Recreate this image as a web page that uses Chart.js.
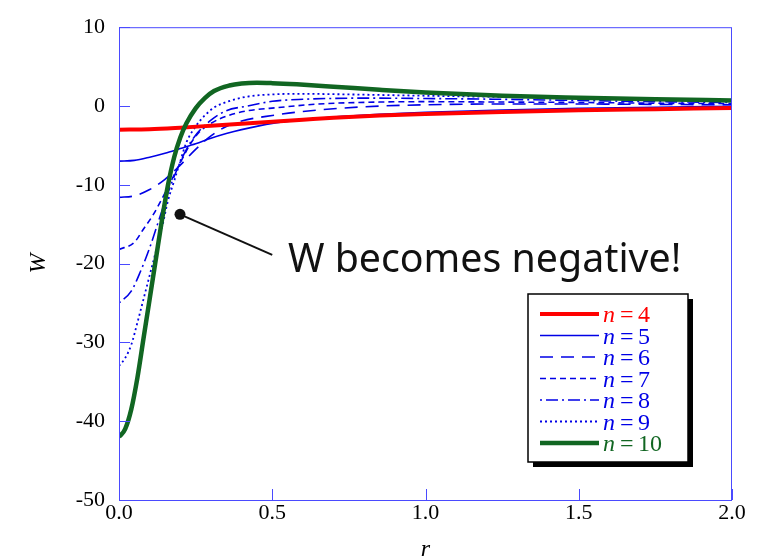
<!DOCTYPE html>
<html>
<head>
<meta charset="utf-8">
<script src="https://cdn.jsdelivr.net/npm/chart.js@4"></script>
<style>
  html, body { margin: 0; padding: 0; background: #fff; }
</style>
</head>
<body>
<canvas id="chart" width="765" height="556"></canvas>
<script>
// W(r) curves, one pair of arrays per n
const r4 = [0, 0.1, 0.2, 0.3, 0.4, 0.5, 0.6, 0.7, 0.85, 1.0, 1.25, 1.5, 1.75, 2.0];
const w4 = [-3.0, -2.95, -2.75, -2.5, -2.25, -2.0, -1.75, -1.5, -1.2, -1.0, -0.75, -0.55, -0.4, -0.25];

const r5 = [0, 0.05, 0.1, 0.15, 0.2, 0.25, 0.3, 0.35, 0.4, 0.5, 0.6, 0.7, 0.85, 1.0, 1.25, 1.5, 1.75, 2.0];
const w5 = [-7.0, -6.9, -6.5, -6.0, -5.4, -4.8, -4.1, -3.5, -3.0, -2.2, -1.75, -1.4, -1.05, -0.8, -0.5, -0.3, -0.15, -0.05];

const r6 = [0, 0.05, 0.1, 0.15, 0.2, 0.25, 0.3, 0.35, 0.4, 0.5, 0.6, 0.8, 1.0, 1.25, 1.5, 1.75, 2.0];
const w6 = [-11.6, -11.4, -10.6, -9.3, -7.5, -5.5, -3.8, -2.6, -1.9, -1.2, -0.7, -0.1, 0.15, 0.25, 0.25, 0.2, 0.15];

const r7 = [0, 0.05, 0.08, 0.11, 0.14, 0.17, 0.2, 0.23, 0.26, 0.3, 0.35, 0.42, 0.52, 0.65, 0.85, 1.0, 1.25, 1.5, 1.75, 2.0];
const w7 = [-18.2, -17.3, -15.6, -13.9, -11.8, -9.5, -7.2, -5.0, -3.4, -2.2, -1.3, -0.6, -0.2, 0.25, 0.5, 0.55, 0.5, 0.45, 0.35, 0.3];

const r8 = [0, 0.04, 0.07, 0.1, 0.13, 0.16, 0.19, 0.22, 0.25, 0.3, 0.35, 0.42, 0.5, 0.6, 0.8, 1.0, 1.25, 1.5, 1.75, 2.0];
const w8 = [-25, -23.5, -21, -18, -14.5, -11, -8, -5.5, -3.7, -1.8, -0.6, 0.0, 0.6, 0.85, 1.0, 0.95, 0.85, 0.7, 0.55, 0.45];

const r9 = [0, 0.02, 0.04, 0.06, 0.08, 0.1, 0.12, 0.14, 0.16, 0.18, 0.2, 0.22, 0.25, 0.28, 0.31, 0.35, 0.42, 0.52, 0.6, 0.7, 0.85, 1.0, 1.25, 1.5, 1.75, 2.0];
const w9 = [-33, -32, -30.3, -27.5, -24.5, -21.5, -18.5, -15.5, -12, -9.5, -7, -4.6, -2.6, -1.2, -0.2, 0.5, 1.2, 1.5, 1.55, 1.5, 1.4, 1.3, 1.15, 1.0, 0.8, 0.65];

const r10 = [0, 0.02, 0.04, 0.06, 0.08, 0.1, 0.12, 0.14, 0.16, 0.18, 0.2, 0.22, 0.25, 0.28, 0.31, 0.36, 0.4, 0.45, 0.5, 0.58, 0.7, 0.85, 1.0, 1.25, 1.5, 1.75, 2.0];
const w10 = [-42, -41, -38.5, -34.5, -29.5, -24.5, -19.5, -14.5, -10, -6.5, -4, -2.2, -0.3, 1.0, 1.9, 2.6, 2.85, 2.95, 2.9, 2.75, 2.45, 2.05, 1.7, 1.3, 1.05, 0.85, 0.7];

const nValues = [4, 5, 6, 7, 8, 9, 10];
const rSeries = [r4, r5, r6, r7, r8, r9, r10];
const wSeries = [w4, w5, w6, w7, w8, w9, w10];

const xTicks = [0, 0.5, 1.0, 1.5, 2.0];
const yTicks = [10, 0, -10, -20, -30, -40, -50];

// annotation, in data coordinates
const noteDot = { x: 0.199, y: -13.75 };
const noteLineEnd = { x: 0.5, y: -18.9 };
const noteText = { x: 0.551, y: -21.1, text: 'W becomes negative!' };

const AXIS = '#4a4aff';
const BLUE = '#0000e6';
const GREEN = '#116622';
const SERIF = '"Liberation Serif", "DejaVu Serif", serif';

const lineStyles = [
  { color: '#ff0000', width: 4, dash: [], order: 1 },
  { color: BLUE, width: 1.6, dash: [], order: 2 },
  { color: BLUE, width: 1.6, dash: [13, 8], order: 2 },
  { color: BLUE, width: 1.6, dash: [6, 4], order: 2 },
  { color: BLUE, width: 1.6, dash: [2, 4, 12, 4], order: 2 },
  { color: BLUE, width: 1.8, dash: [2, 3], order: 2 },
  { color: GREEN, width: 4.5, dash: [], order: 0 }
];

const datasets = nValues.map((n, i) => ({
  label: 'n = ' + n,
  data: rSeries[i].map((r, j) => ({ x: r, y: wSeries[i][j] })),
  borderColor: lineStyles[i].color,
  borderWidth: lineStyles[i].width,
  borderDash: lineStyles[i].dash,
  order: lineStyles[i].order,
  pointRadius: 0,
  fill: false,
  cubicInterpolationMode: 'monotone'
}));

const decor = {
  id: 'decor',
  afterDatasetsDraw(chart) {
    const { ctx, chartArea: a, scales: { x, y } } = chart;
    ctx.save();

    // frame and inward ticks
    ctx.strokeStyle = AXIS;
    ctx.lineWidth = 1;
    ctx.setLineDash([]);
    ctx.strokeRect(a.left + 0.5, a.top + 0.5, a.right - a.left - 1, a.bottom - a.top);
    ctx.beginPath();
    y.ticks.forEach(t => {
      const py = Math.round(y.getPixelForValue(t.value)) + 0.5;
      ctx.moveTo(a.left, py); ctx.lineTo(a.left + 11, py);
    });
    x.ticks.forEach(t => {
      const px = Math.round(x.getPixelForValue(t.value)) + 0.5;
      ctx.moveTo(px, a.bottom); ctx.lineTo(px, a.bottom - 11);
    });
    ctx.stroke();

    // annotation
    const dx = x.getPixelForValue(noteDot.x), dy = y.getPixelForValue(noteDot.y);
    const lx = x.getPixelForValue(noteLineEnd.x), ly = y.getPixelForValue(noteLineEnd.y);
    ctx.strokeStyle = '#111';
    ctx.lineWidth = 2;
    ctx.beginPath(); ctx.moveTo(dx, dy); ctx.lineTo(lx, ly); ctx.stroke();
    ctx.fillStyle = '#111';
    ctx.beginPath(); ctx.arc(dx, dy, 5.5, 0, Math.PI * 2); ctx.fill();
    ctx.font = '100px "Noto Sans", sans-serif';
    const w100 = ctx.measureText(noteText.text).width;
    ctx.font = (100 * 393 / w100).toFixed(1) + 'px "Noto Sans", sans-serif';
    ctx.textBaseline = 'alphabetic';
    ctx.textAlign = 'left';
    ctx.fillText(noteText.text, x.getPixelForValue(noteText.x), y.getPixelForValue(noteText.y));

    // legend box
    const bx = 528, by = 294, bw = 160, bh = 168;
    ctx.fillStyle = '#000';
    ctx.fillRect(bx + 5, by + 5, bw, bh);
    ctx.fillStyle = '#fff';
    ctx.fillRect(bx, by, bw, bh);
    ctx.strokeStyle = '#000';
    ctx.lineWidth = 1.5;
    ctx.strokeRect(bx, by, bw, bh);

    nValues.forEach((n, i) => {
      const s = lineStyles[i];
      const base = 322 + i * 21.5;
      const ly2 = base - 8;
      ctx.strokeStyle = s.color;
      ctx.lineWidth = s.width;
      ctx.setLineDash(s.dash);
      ctx.beginPath(); ctx.moveTo(540, ly2); ctx.lineTo(599, ly2); ctx.stroke();
      ctx.setLineDash([]);
      ctx.fillStyle = s.color;
      ctx.font = 'italic 24px ' + SERIF;
      ctx.fillText('n', 603, base);
      ctx.font = '24px ' + SERIF;
      ctx.fillText('=', 620, base);
      ctx.fillText(String(n), 638, base);
    });

    ctx.restore();
  }
};

new Chart(document.getElementById('chart').getContext('2d'), {
  type: 'line',
  data: { datasets: datasets },
  options: {
    responsive: false,
    animation: false,
    layout: { padding: { top: 22, right: 33, left: 0, bottom: 0 }, autoPadding: false },
    plugins: { legend: { display: false }, tooltip: { enabled: false } },
    scales: {
      x: {
        type: 'linear',
        min: 0, max: 2,
        afterBuildTicks: s => { s.ticks = xTicks.map(v => ({ value: v })); },
        afterFit: s => { s.height = 56; },
        grid: { display: true, drawOnChartArea: false, drawTicks: false },
        border: { display: false },
        ticks: { color: '#000', font: { family: SERIF, size: 22 }, padding: 0, maxRotation: 0,
                 callback: v => Number(v).toFixed(1) },
        title: { display: true, text: 'r', color: '#000',
                 font: { family: SERIF, size: 24, style: 'italic', lineHeight: 0.5 }, padding: 0 }
      },
      y: {
        type: 'linear',
        min: -50, max: 10,
        afterBuildTicks: s => { s.ticks = yTicks.map(v => ({ value: v })); },
        afterFit: s => { s.width = 119; },
        grid: { display: true, drawOnChartArea: false, drawTicks: false },
        border: { display: false },
        ticks: { color: '#000', font: { family: SERIF, size: 22 }, padding: 14 },
        title: { display: true, text: 'W', color: '#000',
                 font: { family: SERIF, size: 24, style: 'italic' }, padding: { top: 24, bottom: 0 } }
      }
    }
  },
  plugins: [decor]
});
</script>
</body>
</html>
